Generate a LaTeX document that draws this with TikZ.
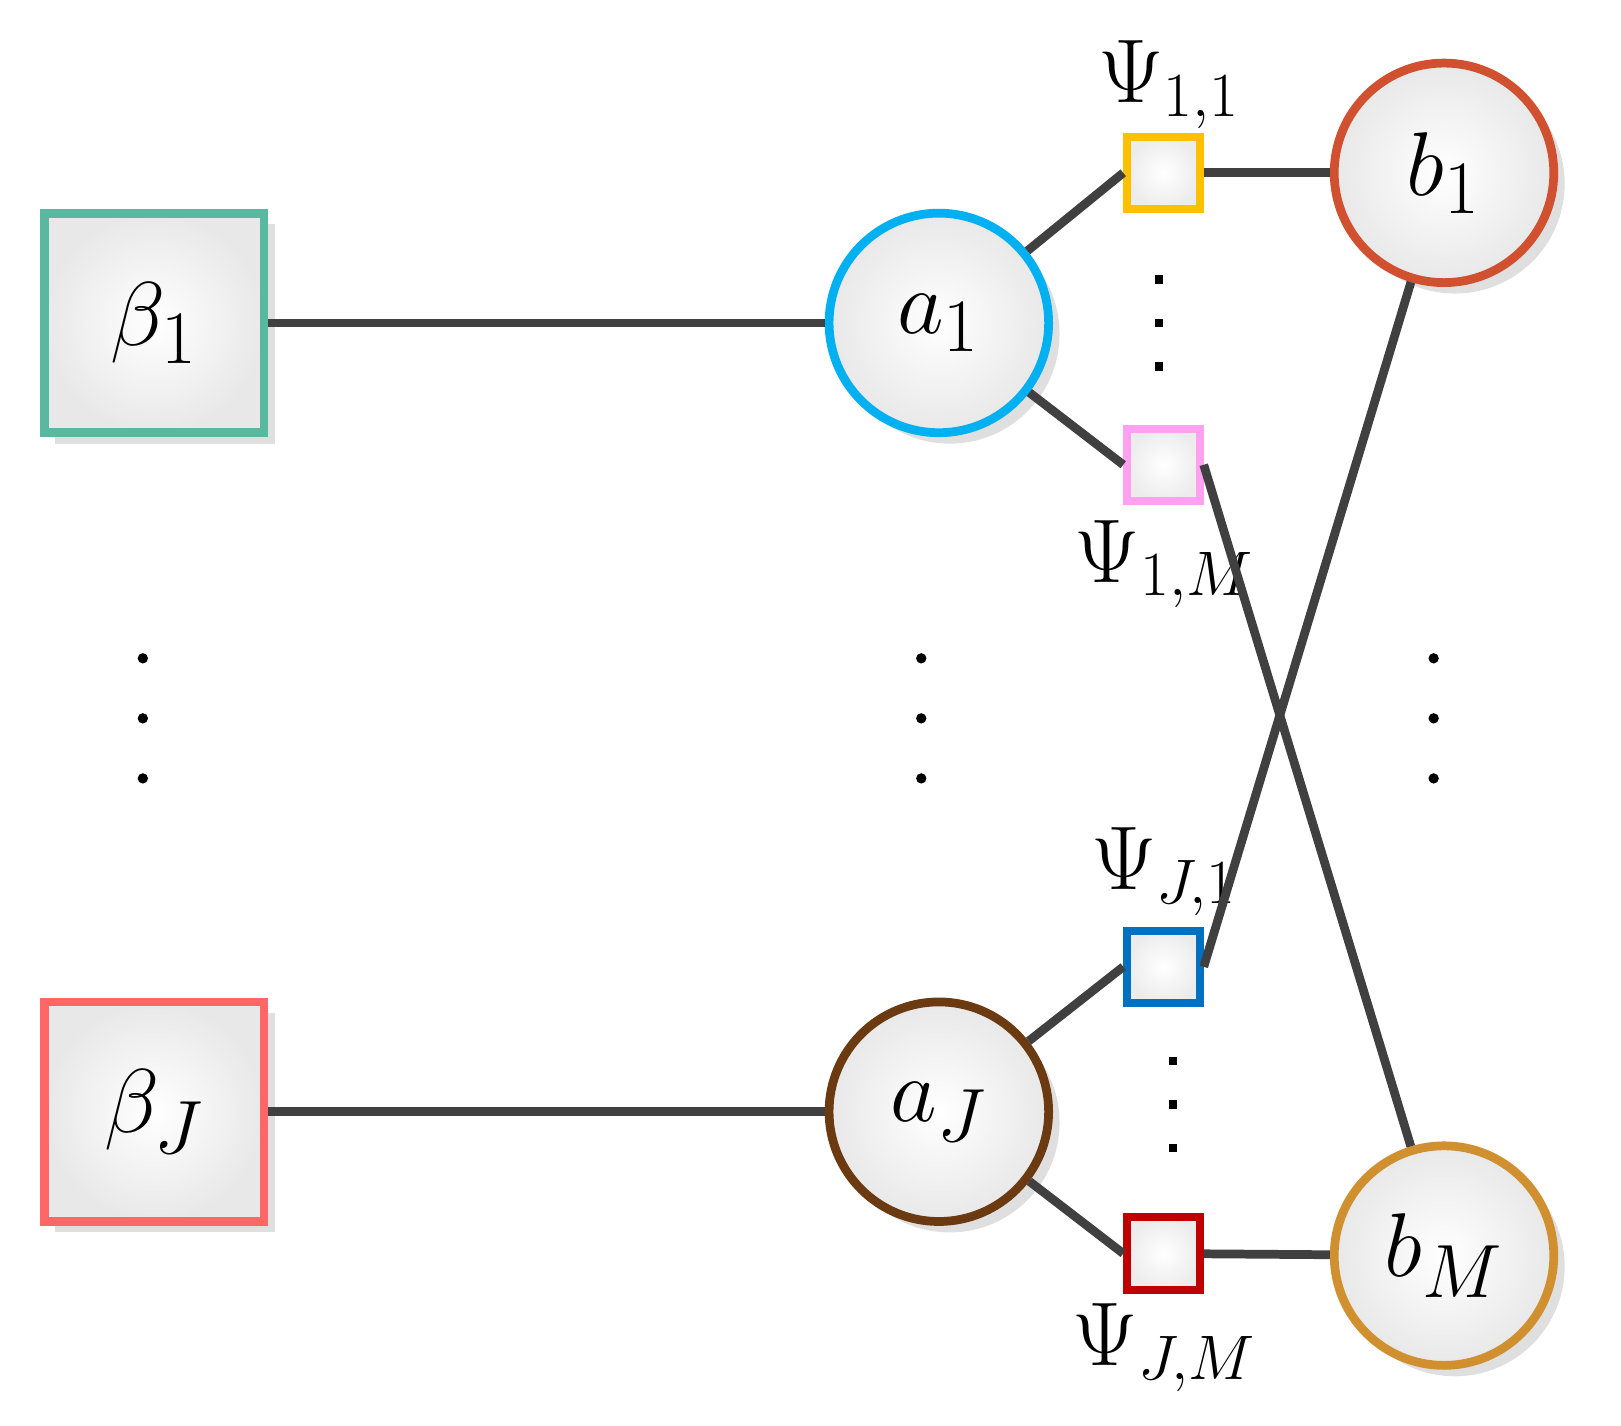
\documentclass[tikz,border=0pt]{standalone}
\usetikzlibrary{shadows}
\begin{document}
\begin{tikzpicture}[x=0.01cm,y=-0.01cm,
  big/.style={circle,minimum size=2.12cm,line width=2.4pt,inner color=white,outer color=gray!18,drop shadow={opacity=0.25,shadow xshift=3pt,shadow yshift=-3pt},font=\fontsize{30}{30}\selectfont},
  bsq/.style={rectangle,minimum size=2.12cm,line width=2.4pt,inner color=white,outer color=gray!18,drop shadow={opacity=0.25,shadow xshift=3pt,shadow yshift=-3pt},font=\fontsize{30}{30}\selectfont},
  ssq/.style={rectangle,minimum size=0.7cm,line width=2.2pt,inner color=white,outer color=gray!15},
  con/.style={line width=2.4pt,draw=black!75},
  lab/.style={font=\fontsize{26}{26}\selectfont},
  dot/.style={circle,fill=black,inner sep=0pt,minimum size=0.1cm}]
\useasboundingbox (0,0) rectangle (1566,1377);
\definecolor{cteal}{HTML}{5BB8A0}
\definecolor{cred}{HTML}{FF6666}
\definecolor{ccyan}{HTML}{00B0F0}
\definecolor{cbrown}{HTML}{6B3A10}
\definecolor{corange}{HTML}{D05030}
\definecolor{cgold}{HTML}{D09030}
\definecolor{cyel}{HTML}{FFC000}
\definecolor{cpink}{HTML}{FFA0F0}
\definecolor{cblue}{HTML}{0070C0}
\definecolor{cdred}{HTML}{C00000}
\node[bsq,draw=cteal] (B1) at (149,312) {$\beta_1$};
\node[bsq,draw=cred] (BJ) at (149,1074) {$\beta_J$};
\node[big,draw=ccyan] (A1) at (907,312) {$a_1$};
\node[big,draw=cbrown] (AJ) at (907,1074) {$a_J$};
\node[big,draw=corange] (b1) at (1395,167) {$b_1$};
\node[big,draw=cgold] (bM) at (1395,1213) {$b_M$};
\node[ssq,draw=cyel] (P11) at (1124,167) {};
\node[ssq,draw=cpink] (P1M) at (1124,449) {};
\node[ssq,draw=cblue] (PJ1) at (1124,934) {};
\node[ssq,draw=cdred] (PJM) at (1124,1211) {};
\node[lab] (L11) at (1130,82) {$\Psi_{1,1}$};
\node[lab] (L1M) at (1125,545) {$\Psi_{1,M}$};
\node[lab] (LJ1) at (1125,842) {$\Psi_{J,1}$};
\node[lab] (LJM) at (1125,1302) {$\Psi_{J,M}$};
\draw[con] (B1) -- (A1);
\draw[con] (BJ) -- (AJ);
\draw[con] (A1) -- (P11.west);
\draw[con] (A1) -- (P1M.west);
\draw[con] (AJ) -- (PJ1.west);
\draw[con] (AJ) -- (PJM.west);
\draw[con] (P11) -- (b1);
\draw[con] (PJM) -- (bM);
\draw[con] (P1M.east) -- (bM);
\draw[con] (PJ1.east) -- (b1);
\foreach \x in {138,890,1385}{\foreach \y in {636,694,752}{\node[dot] at (\x,\y) {};}}
\foreach \y in {270,312,354}{\node[dot,rectangle,minimum size=0.08cm] at (1120,\y) {};}
\foreach \y in {1025,1067,1109}{\node[dot,rectangle,minimum size=0.08cm] at (1133,\y) {};}
\end{tikzpicture}
\end{document}
